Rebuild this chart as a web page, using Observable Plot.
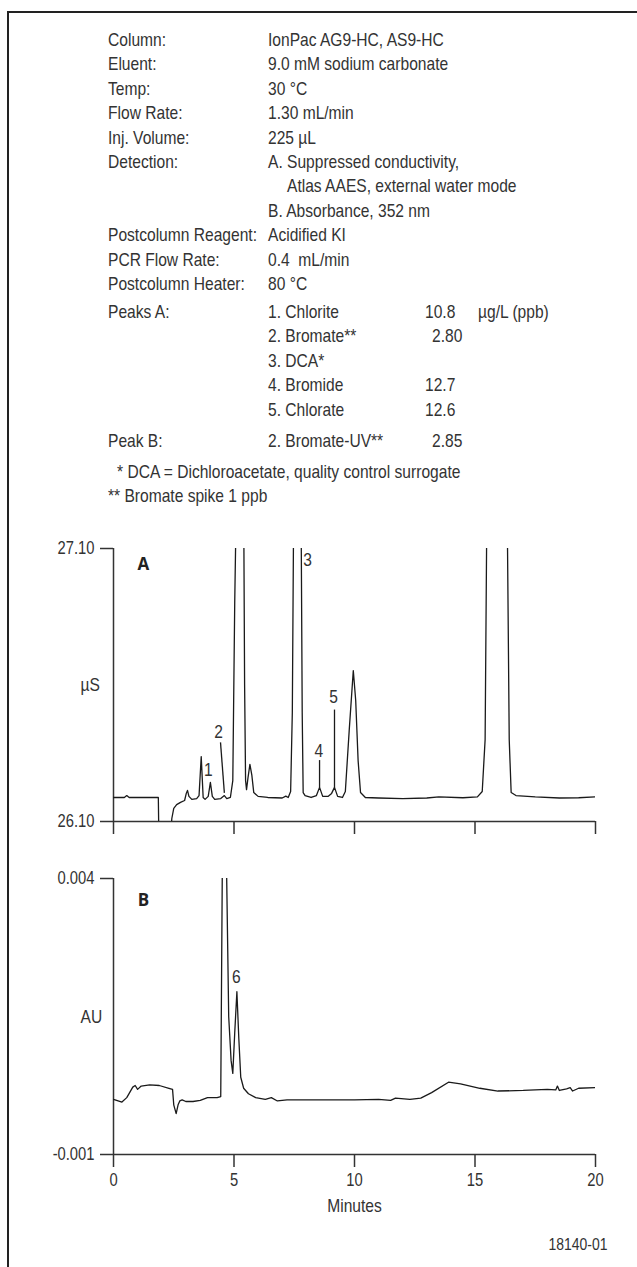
<!DOCTYPE html>
<html><head><meta charset="utf-8">
<script src="https://cdn.jsdelivr.net/npm/d3@7"></script>
<script src="https://cdn.jsdelivr.net/npm/@observablehq/plot@0.6"></script>
<style>
body{margin:0;background:#fff;width:637px;height:1267px;overflow:hidden;position:relative;
 font-family:"Liberation Sans",Arial,sans-serif;color:#333}
#frame{position:absolute;left:7px;top:11px;width:700px;height:1400px;border-left:2px solid #222;border-top:2px solid #222}
.t{position:absolute;font-size:19px;line-height:22px;white-space:pre;transform:translateY(-50%) scaleX(0.82);transform-origin:left center}
.chart{position:absolute;left:0}
</style></head><body>
<div id="frame"></div>
<div id="chartA" class="chart" style="top:528px"></div>
<div id="chartB" class="chart" style="top:858px"></div>
<script>
// ---------- text data ----------
const condLabels = ["Column:", "Eluent:", "Temp:", "Flow Rate:", "Inj. Volume:", "Detection:", "", "", "Postcolumn Reagent:", "PCR Flow Rate:", "Postcolumn Heater:"];
const condValues = ["IonPac AG9-HC, AS9-HC", "9.0 mM sodium carbonate", "30 °C", "1.30 mL/min", "225 µL", "A. Suppressed conductivity,", "Atlas AAES, external water mode", "B. Absorbance, 352 nm", "Acidified KI", "0.4  mL/min", "80 °C"];
const peakNames = ["1. Chlorite", "2. Bromate**", "3. DCA*", "4. Bromide", "5. Chlorate"];
const peakConc = ["10.8", "2.80", "", "12.7", "12.6"];
const concUnit = "µg/L (ppb)";
const peakBNames = ["2. Bromate-UV**"];
const peakBConc = ["2.85"];
const footnotes = ["* DCA = Dichloroacetate, quality control surrogate", "** Bromate spike 1 ppb"];

// ---------- chart data ----------
const timeA = [0,0.45,0.55,0.65,1.86,1.88,2.38,2.42,2.5,2.62,2.78,2.95,3.02,3.07,3.13,3.25,3.45,3.55,3.64,3.72,3.8,3.93,4.02,4.1,4.2,4.45,4.6,4.7,4.85,4.95,5.03,5.1,5.25,5.4,5.44,5.48,5.52,5.58,5.66,5.74,5.82,6.0,6.4,7.0,7.15,7.25,7.35,7.42,7.48,7.6,7.78,7.83,7.87,7.95,8.2,8.42,8.55,8.68,8.9,9.05,9.17,9.3,9.5,9.62,9.78,9.95,10.05,10.15,10.25,10.45,11,12,13,13.5,14.5,15.1,15.3,15.42,15.48,15.9,16.35,16.42,16.5,16.7,17.5,18.5,19.3,20];
const signalA = [26.188,26.188,26.195,26.188,26.188,26.06,26.06,26.111,26.148,26.162,26.170,26.177,26.203,26.214,26.192,26.181,26.184,26.195,26.338,26.188,26.181,26.192,26.243,26.192,26.181,26.184,26.195,26.184,26.188,26.25,26.9,27.3,27.8,27.3,26.6,26.25,26.217,26.26,26.309,26.27,26.206,26.192,26.188,26.186,26.193,26.188,26.21,26.5,27.3,27.8,27.3,26.5,26.206,26.195,26.188,26.195,26.225,26.192,26.192,26.203,26.225,26.192,26.188,26.21,26.433,26.653,26.543,26.323,26.206,26.188,26.186,26.184,26.186,26.19,26.187,26.19,26.21,26.4,27.1,28.5,27.1,26.4,26.206,26.195,26.19,26.186,26.187,26.19];

const timeB = [0,0.35,0.55,0.8,0.9,1.0,1.15,1.5,1.9,2.3,2.45,2.5,2.6,2.68,2.75,2.85,3.0,3.3,3.6,3.9,4.3,4.45,4.52,4.6,4.68,4.78,4.88,4.95,5.03,5.12,5.2,5.28,5.4,5.6,5.9,6.3,6.55,6.8,7.2,8.5,10,11,11.5,11.7,12.3,12.75,13.2,13.9,14.4,15.2,15.95,17,18,18.35,18.42,18.5,18.8,18.95,19.05,19.3,20];
const signalB = [0,-0.00005,0.00003,0.00022,0.00025,0.00018,0.00024,0.00026,0.00025,0.0002,0.00018,-0.0001,-0.00026,-0.0001,-0.00003,-0.00001,-0.00004,-0.00004,-0.00002,0.00003,0.00003,0.00005,0.0045,0.0048,0.0045,0.0015,0.0007,0.00047,0.0012,0.00195,0.0011,0.0004,0.0002,0.0001,0.00003,0,0.00003,-0.00003,-0.00001,-0.00001,-0.00001,0,-0.00002,0.00002,0,0.00002,0.00012,0.00031,0.00028,0.0002,0.00015,0.00016,0.00018,0.00017,0.00024,0.00016,0.00019,0.00021,0.00015,0.0002,0.00021];

const minuteTicks = [0, 5, 10, 15, 20];
const ticksA = [26.10, 27.10];
const ticksB = [-0.001, 0.004];

// peak labels and leader lines
const labelsA = ["1", "2", "3", "4", "5"];
const labelAx = [3.94, 4.36, 8.05, 8.52, 9.13];
const labelAy = [26.29, 26.43, 27.06, 26.36, 26.555];
const leaderAx1 = [4.44, 8.55, 9.17];
const leaderAy1 = [26.39, 26.325, 26.51];
const leaderAx2 = [4.6, 8.55, 9.17];
const leaderAy2 = [26.205, 26.225, 26.225];
const labelsB = ["6"];
const labelBx = [5.1];
const labelBy = [0.00222];
const panelA = "A", panelB = "B";
const unitA = "µS", unitB = "AU";
const xTitle = "Minutes";
const figCode = "18140-01";

// ---------- text block ----------
function addText(str, x, y) {
  const d = document.createElement("div");
  d.className = "t"; d.textContent = str;
  d.style.left = x + "px"; d.style.top = y + "px";
  document.body.appendChild(d);
}
const LX = 108, VX = 268, ROW = 24.4, CX = 425;
condLabels.forEach((s, i) => { if (s) addText(s, LX, 40 + i * ROW); });
condValues.forEach((s, i) => addText(s, i === 6 ? VX + 19 : VX, 40 + i * ROW));
const pY = 312;
addText("Peaks A:", LX, pY);
peakNames.forEach((s, i) => addText(s, VX, pY + i * ROW));
peakConc.forEach((s, i) => { if (s) addText(s, i === 1 ? CX + 7 : CX, pY + i * ROW); });
addText(concUnit, 478, pY);
const bY = pY + 4 * ROW + 31;
addText("Peak B:", LX, bY);
addText(peakBNames[0], VX, bY);
addText(peakBConc[0], CX + 7, bY);
addText(footnotes[0], LX + 9, bY + 31);
addText(footnotes[1], LX, bY + 31 + ROW);

// ---------- charts ----------
const FONT = '"Liberation Sans",Arial,sans-serif';
const dataA = timeA.map((t, i) => ({t, v: signalA[i]}));
const dataB = timeB.map((t, i) => ({t, v: signalB[i]}));
const labA = labelsA.map((s, i) => ({s, x: labelAx[i], y: labelAy[i]}));
const leadA = leaderAx1.map((x1, i) => ({x1, y1: leaderAy1[i], x2: leaderAx2[i], y2: leaderAy2[i]}));
const labB = labelsB.map((s, i) => ({s, x: labelBx[i], y: labelBy[i]}));
const AX = "#333", TR = "#1a1a1a";
const common = {
  width: 637, marginLeft: 113, marginRight: 42, marginTop: 20,
  style: {fontFamily: FONT, fontSize: "18px", color: "#333", background: "transparent", overflow: "visible"},
  x: {domain: [0, 20]}
};

const chartA = Plot.plot({
  ...common, height: 313, marginBottom: 20,
  y: {domain: [26.10, 27.10]},
  marks: [
    Plot.ruleX([0], {stroke: AX, strokeWidth: 1.5}),
    Plot.ruleY([26.10], {stroke: AX, strokeWidth: 1.5}),
    Plot.axisX({ticks: minuteTicks, tickSize: 13, tickFormat: () => "", stroke: AX, strokeWidth: 1.5, label: null}),
    Plot.axisY({ticks: ticksA, tickSize: 13, tickPadding: 6, tickFormat: d => d.toFixed(2), stroke: AX, strokeWidth: 1.5, label: null, fontSize: 18}),
    Plot.line(dataA, {x: "t", y: "v", stroke: TR, strokeWidth: 1.3, clip: true}),
    Plot.link(leadA, {x1: "x1", y1: "y1", x2: "x2", y2: "y2", stroke: TR, strokeWidth: 1.3}),
    Plot.text(labA, {x: "x", y: "y", text: "s", fontSize: 19, fill: "#333"}),
    Plot.text([panelA], {x: 1.24, y: 27.04, fontSize: 17, fontWeight: "bold", fontFamily: "Open Sans", fill: "#222", className: "nocond"}),
    Plot.text([unitA], {frameAnchor: "left", dx: -33, fontSize: 19, fill: "#333"})
  ]
});
document.getElementById("chartA").appendChild(chartA);

const chartB = Plot.plot({
  ...common, height: 406, marginBottom: 110,
  y: {domain: [-0.001, 0.004]},
  marks: [
    Plot.ruleX([0], {stroke: AX, strokeWidth: 1.5}),
    Plot.ruleY([-0.001], {stroke: AX, strokeWidth: 1.5}),
    Plot.axisX({ticks: minuteTicks, tickSize: 13, tickPadding: 6, tickFormat: d => String(d), stroke: AX, strokeWidth: 1.5, label: null, fontSize: 18}),
    Plot.axisY({ticks: ticksB, tickSize: 13, tickPadding: 6, tickFormat: d => d.toFixed(3), stroke: AX, strokeWidth: 1.5, label: null, fontSize: 18}),
    Plot.line(dataB, {x: "t", y: "v", stroke: TR, strokeWidth: 1.3, clip: true}),
    Plot.text(labB, {x: "x", y: "y", text: "s", fontSize: 19, fill: "#333"}),
    Plot.text([panelB], {x: 1.24, y: 0.0036, fontSize: 17, fontWeight: "bold", fontFamily: "Open Sans", fill: "#222", className: "nocond"}),
    Plot.text([unitB], {frameAnchor: "left", dx: -33, fontSize: 19, fill: "#333"}),
    Plot.text([xTitle], {frameAnchor: "bottom", dy: 57, fontSize: 19, fill: "#333"}),
    Plot.text([figCode], {frameAnchor: "bottom-right", dx: 12, dy: 95, textAnchor: "end", fontSize: 17, fill: "#333"})
  ]
});
document.getElementById("chartB").appendChild(chartB);

// narrow typeface look: compress SVG glyphs horizontally while keeping each text's anchor
for (const svg of [chartA, chartB]) {
  svg.querySelectorAll("text").forEach(el => {
    if (el.closest(".nocond")) return;
    const w = el.getComputedTextLength();
    if (w > 0) {
      el.setAttribute("textLength", (w * 0.82).toFixed(2));
      el.setAttribute("lengthAdjust", "spacingAndGlyphs");
    }
  });
}
</script></body></html>
